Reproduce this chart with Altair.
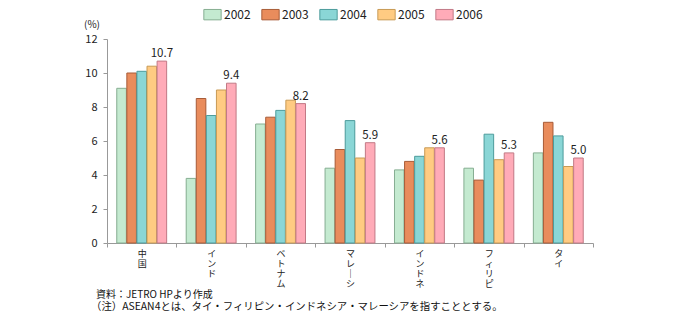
import altair as alt
import pandas as pd

countries = ["中国", "インド", "ベトナム", "マレーシア", "インドネシア", "フィリピン", "タイ"]
years = ["2002", "2003", "2004", "2005", "2006"]
v2002 = [9.1, 3.8, 7.0, 4.4, 4.3, 4.4, 5.3]
v2003 = [10.0, 8.5, 7.4, 5.5, 4.8, 3.7, 7.1]
v2004 = [10.1, 7.5, 7.8, 7.2, 5.1, 6.4, 6.3]
v2005 = [10.4, 9.0, 8.4, 5.0, 5.6, 4.9, 4.5]
v2006 = [10.7, 9.4, 8.2, 5.9, 5.6, 5.3, 5.0]
fills = ["#c4ead0", "#e98c5c", "#8ad6d6", "#ffcb82", "#ffabb8"]
strokes = ["#86ae92", "#a85c38", "#4d9c9c", "#c89a55", "#c27a86"]

series = [v2002, v2003, v2004, v2005, v2006]
rows = []
for y, vals in zip(years, series):
    for c, v in zip(countries, vals):
        rows.append({"country": c, "year": y, "value": v})
df = pd.DataFrame(rows)

FONT = "Noto Sans CJK JP"

x = alt.X("country:N", sort=countries, title=None,
          scale=alt.Scale(paddingInner=0, paddingOuter=0),
          axis=alt.Axis(labelAngle=0, tickBand="extent", tickSize=4,
                        domainColor="#999", tickColor="#999",
                        labelExpr="split(slice(replace(datum.label,'ー','｜'),0,4),'')",
                        labelBaseline="top", labelLineHeight=10, labelPadding=2,
                        labelFontSize=9, labelColor="#222", labelFont=FONT))
xo = alt.XOffset("year:N", sort=years,
                 scale=alt.Scale(paddingOuter=0.97, paddingInner=0.05))
y = alt.Y("value:Q", title=None,
          scale=alt.Scale(domain=[0, 12], nice=False),
          axis=alt.Axis(values=[0, 2, 4, 6, 8, 10, 12], grid=False, tickSize=4,
                        domainColor="#999", tickColor="#999", labelPadding=6,
                        labelFontSize=11, labelColor="#222", labelFont=FONT))

base = alt.Chart(df)

shadow = base.mark_bar(color="#d4d4d4", xOffset=3, yOffset=5, y2Offset=0).encode(
    x=x, xOffset=xo, y=y, y2=alt.datum(0))

bars = base.mark_bar(strokeWidth=1).encode(
    x=x, xOffset=xo, y=y,
    fill=alt.Fill("year:N", sort=years, scale=alt.Scale(domain=years, range=fills),
                  legend=alt.Legend(title=None, orient="none", direction="horizontal",
                                    legendX=96, legendY=-34,
                                    symbolType="M-1,-0.6H1V0.6H-1Z", symbolSize=300,
                                    symbolStrokeWidth=1, symbolOpacity=1,
                                    labelFontSize=12, labelFont=FONT, labelColor="#222",
                                    columnPadding=8, labelOffset=2)),
    stroke=alt.Stroke("year:N", sort=years, scale=alt.Scale(domain=years, range=strokes)),
)

labels = base.transform_filter(alt.datum.year == "2006").mark_text(
    dy=-7, fontSize=11.5, font=FONT, color="#222"
).encode(x=x, xOffset=xo, y=y, text=alt.Text("value:Q", format=".1f"))

unit = alt.Chart(pd.DataFrame({"t": ["(%)"]})).mark_text(
    fontSize=10, font=FONT, color="#222", align="center"
).encode(x=alt.value(-15), y=alt.value(-14), text="t:N")

note1 = alt.Chart(pd.DataFrame({"t": ["資料：JETRO HPより作成"]})).mark_text(
    fontSize=10, font=FONT, color="#111", align="left"
).encode(x=alt.value(-11), y=alt.value(256), text="t:N")

note2 = alt.Chart(pd.DataFrame({"t": ["（注）ASEAN4とは、タイ・フィリピン・インドネシア・マレーシアを指すこととする。"]})).mark_text(
    fontSize=10.4, font=FONT, color="#111", align="left"
).encode(x=alt.value(-16), y=alt.value(268), text="t:N")

chart = alt.layer(shadow, bars, labels, unit, note1, note2).resolve_scale(
    fill="shared", stroke="shared"
).properties(
    width=486, height=204,
    autosize=alt.AutoSizeParams(type="none"),
    padding={"left": 107, "top": 39, "right": 102, "bottom": 79},
).configure_view(stroke=None)

chart.save("out.html", embed_options={"renderer": "svg", "actions": False})
